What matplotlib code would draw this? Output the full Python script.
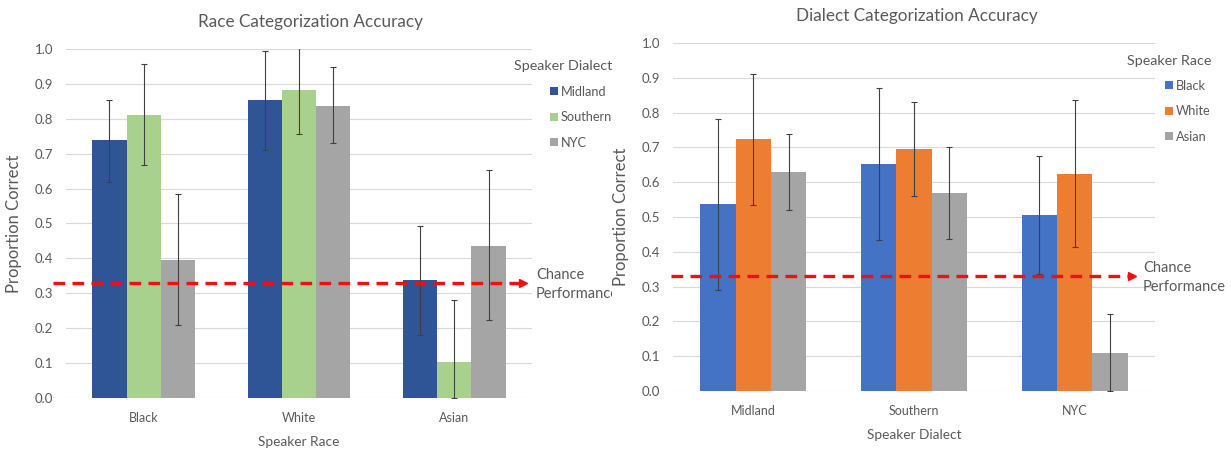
import matplotlib.pyplot as plt
import numpy as np
from matplotlib.transforms import Bbox, TransformedBbox

plt.rcParams['font.family'] = ['Lato', 'DejaVu Sans']

# left panel: race categorization, grouped by speaker race
race_cats = ['Black', 'White', 'Asian']
race_series = ['Midland', 'Southern', 'NYC']
race_vals = [[0.74, 0.855, 0.338],
             [0.812, 0.882, 0.104],
             [0.395, 0.838, 0.435]]
race_lo = [[0.62, 0.71, 0.18],
           [0.668, 0.755, 0.0],
           [0.21, 0.73, 0.222]]
race_hi = [[0.855, 0.995, 0.492],
           [0.957, 1.005, 0.28],
           [0.585, 0.947, 0.652]]
race_colors = ['#2F5597', '#A9D18E', '#A5A5A5']

# right panel: dialect categorization, grouped by speaker dialect
dial_cats = ['Midland', 'Southern', 'NYC']
dial_series = ['Black', 'White', 'Asian']
dial_vals = [[0.537, 0.653, 0.505],
             [0.723, 0.695, 0.625],
             [0.63, 0.568, 0.11]]
dial_lo = [[0.29, 0.435, 0.335],
           [0.535, 0.56, 0.413],
           [0.52, 0.438, 0.0]]
dial_hi = [[0.783, 0.872, 0.675],
           [0.912, 0.83, 0.837],
           [0.738, 0.70, 0.222]]
dial_colors = ['#4472C4', '#ED7D31', '#A5A5A5']

chance = 0.33
txt = '#595959'


def draw_panel(ax, cats, series, vals, lo, hi, colors, title, title_x, xlabel,
               leg_title, leg_pos, line_x, text_x):
    x = np.arange(len(cats))
    w = 0.22
    for i, name in enumerate(series):
        v = np.array(vals[i])
        err = [v - np.array(lo[i]), np.array(hi[i]) - v]
        ax.bar(x + (i - 1) * w, v, w, color=colors[i], label=name, zorder=2,
               yerr=err, error_kw=dict(ecolor='#404040', elinewidth=0.8, capsize=2, capthick=0.8))
    ax.set_xlim(-0.5, len(cats) - 0.5)
    ax.set_ylim(0, 1.0)
    ax.set_yticks(np.arange(0, 1.01, 0.1))
    ax.set_yticklabels([f'{t:.1f}' for t in np.arange(0, 1.01, 0.1)])
    ax.set_xticks(x)
    ax.set_xticklabels(cats)
    ax.tick_params(length=0, colors=txt, labelsize=9.5)
    ax.tick_params(axis='y', pad=9)
    ax.tick_params(axis='x', pad=10, labelsize=9)
    ax.grid(axis='y', color='#D9D9D9', lw=0.8, zorder=0)
    for s in ax.spines.values():
        s.set_visible(False)
    ax.set_title(title, color=txt, fontsize=12.3, pad=15.5, x=title_x)
    ax.set_xlabel(xlabel, color=txt, fontsize=9.8, labelpad=9)
    ax.set_ylabel('Proportion Correct', color=txt, fontsize=12, labelpad=9)

    # chance level arrow
    ax.plot(line_x, [chance, chance], color='#EE1111', lw=2.4,
            dashes=(3.5, 2.2), clip_on=False, zorder=4)
    ax.plot([line_x[1]], [chance], marker='>', color='#EE1111', ms=6,
            clip_on=False, zorder=4)
    t = ax.text(text_x, chance - 0.004, 'Chance\nPerformance', color=txt,
                fontsize=10.5, va='center', ha='left', linespacing=1.45)

    leg = ax.legend(title=leg_title, loc='upper left', bbox_to_anchor=leg_pos,
                    frameon=False, fontsize=9.2, title_fontsize=10.3,
                    handlelength=0.6, handleheight=0.6, handletextpad=0.25,
                    labelspacing=1.05, labelcolor=txt, alignment='right')
    leg.get_title().set_color(txt)
    return t


fig = plt.figure(figsize=(12.31, 4.5), dpi=100)
ax1 = fig.add_axes([0.0536, 0.1156, 0.3786, 0.7756])
ax2 = fig.add_axes([0.5467, 0.1311, 0.3916, 0.7733])

t1 = draw_panel(ax1, race_cats, race_series, race_vals, race_lo, race_hi, race_colors,
                'Race Categorization Accuracy', 0.524, 'Speaker Race', 'Speaker Dialect',
                (0.936, 1.0), [-0.584, 2.44], 2.526)
draw_panel(ax2, dial_cats, dial_series, dial_vals, dial_lo, dial_hi, dial_colors,
           'Dialect Categorization Accuracy', 0.506, 'Speaker Dialect', 'Speaker Race',
           (0.917, 1.0), [-0.512, 2.355], 2.425)

# left chance label is cut off where the right image begins
t1.set_clip_box(TransformedBbox(Bbox([[0, 0], [612 / 1231, 1]]), fig.transFigure))
t1.set_clip_on(True)

fig.savefig('out.png', dpi=100)
